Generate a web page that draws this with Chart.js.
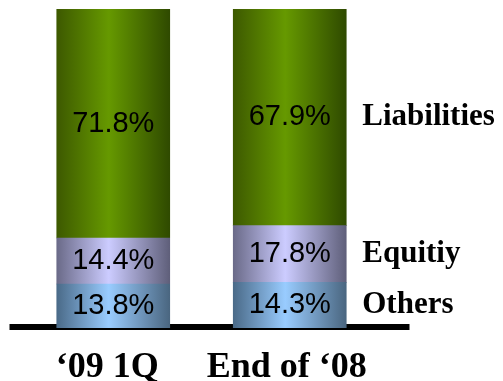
<!DOCTYPE html>
<html>
<head>
<meta charset="utf-8">
<script src="https://cdn.jsdelivr.net/npm/chart.js@4/dist/chart.umd.min.js"></script>
<style>
  html, body { margin: 0; padding: 0; background: #fff; }
  canvas { display: block; }
</style>
</head>
<body>
<canvas id="myChart" width="503" height="381"></canvas>
<script>
const categories = ["\u201809 1Q", "End of \u201808"];
const seriesNames = ["Others", "Equitiy", "Liabilities"];
const others = [13.8, 14.3];
const equity = [14.4, 17.8];
const liabilities = [71.8, 67.9];

// edge / centre / edge colours for the cylinder look
const shades = [
  ["#4a6a88", "#99ccff", "#4a6680"],
  ["#6a6a88", "#ccccff", "#5f5f7a"],
  ["#3d5900", "#669900", "#2f4a00"]
];

function barFill(i) {
  return function (ctx) {
    let chart = ctx.chart;
    let x = chart.scales.x;
    if (!x || !chart.chartArea) return shades[i][1];
    let cx = x.getPixelForValue(ctx.dataIndex);
    let g = chart.ctx.createLinearGradient(cx - 56.5, 0, cx + 56.5, 0);
    g.addColorStop(0, shades[i][0]);
    g.addColorStop(0.46, shades[i][1]);
    g.addColorStop(1, shades[i][2]);
    return g;
  };
}

// thick black base line, drawn under the bars
const baseLine = {
  id: "baseLine",
  beforeDatasetsDraw(chart) {
    let c = chart.ctx;
    let a = chart.chartArea;
    c.save();
    c.fillStyle = "#000";
    c.fillRect(a.left - 15.5, a.bottom - 4, 400, 6);
    c.restore();
  }
};

// percent labels in the bars, series names to the right, category names below
const labels = {
  id: "labels",
  afterDatasetsDraw(chart) {
    let c = chart.ctx;
    c.save();
    c.fillStyle = "#000";
    c.textBaseline = "middle";
    chart.data.datasets.forEach(function (ds, di) {
      let meta = chart.getDatasetMeta(di);
      meta.data.forEach(function (el, i) {
        let mid = (el.y + el.base) / 2;
        c.textAlign = "center";
        c.font = "29px 'Liberation Sans', Arial, sans-serif";
        c.fillText(ds.data[i].toFixed(1) + "%", el.x, mid);
        if (i == meta.data.length - 1) {
          c.textAlign = "left";
          c.font = "bold 31px 'Liberation Serif', 'Times New Roman', serif";
          c.fillText(ds.label, el.x + el.width / 2 + 16, mid);
        }
      });
    });
    let x = chart.scales.x;
    c.textAlign = "center";
    c.textBaseline = "alphabetic";
    c.font = "bold 36px 'Liberation Serif', 'Times New Roman', serif";
    chart.data.labels.forEach(function (lab, i) {
      c.fillText(lab, x.getPixelForValue(i) - (i == 0 ? 6 : 3), chart.chartArea.bottom + 49);
    });
    c.restore();
  }
};

new Chart("myChart", {
  type: "bar",
  data: {
    labels: categories,
    datasets: [
      { label: seriesNames[0], data: others, backgroundColor: barFill(0) },
      { label: seriesNames[1], data: equity, backgroundColor: barFill(1) },
      { label: seriesNames[2], data: liabilities, backgroundColor: barFill(2) }
    ]
  },
  options: {
    responsive: false,
    animation: false,
    devicePixelRatio: 1,
    barThickness: 113,
    layout: { padding: { left: 25, right: 125, top: 9, bottom: 53 } },
    plugins: { legend: { display: false }, tooltip: { enabled: false } },
    scales: {
      x: {
        stacked: true,
        grid: { display: false, drawTicks: false },
        border: { display: false },
        ticks: { display: false }
      },
      y: { stacked: true, display: false, min: 0, max: 100 }
    }
  },
  plugins: [baseLine, labels]
});
</script>
</body>
</html>
